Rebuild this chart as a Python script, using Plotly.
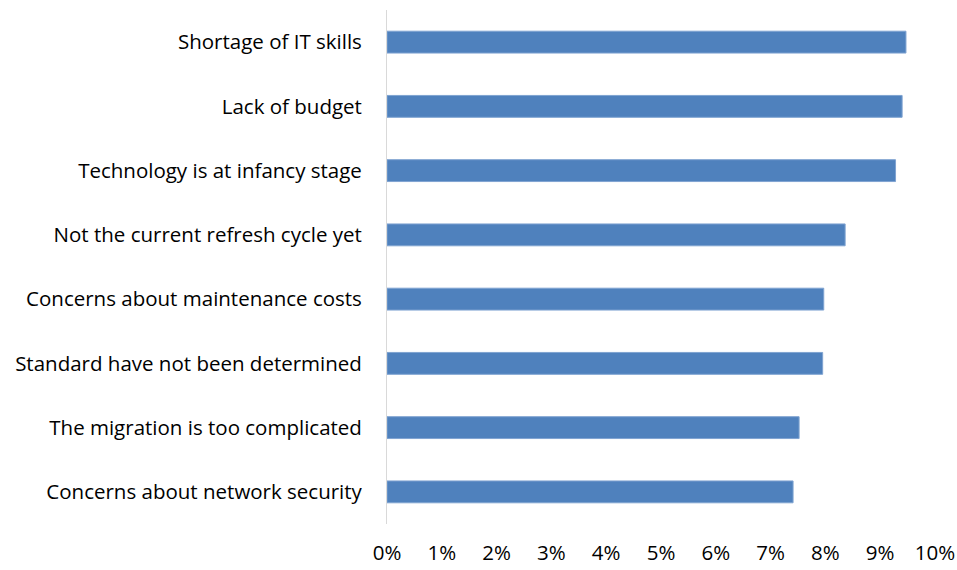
import plotly.graph_objects as go

categories = [
    "Shortage of IT skills",
    "Lack of budget",
    "Technology is at infancy stage",
    "Not the current refresh cycle yet",
    "Concerns about maintenance costs",
    "Standard have not been determined",
    "The migration is too complicated",
    "Concerns about network security",
]
values = [0.0947, 0.0940, 0.0928, 0.0836, 0.0797, 0.0795, 0.0752, 0.0741]
tick_vals = [i / 100 for i in range(11)]
tick_text = [f"{i}%" for i in range(11)]

fig = go.Figure(
    go.Bar(
        x=values,
        y=categories,
        orientation="h",
        width=0.34,
        marker=dict(color="#4F81BD", line=dict(color="#7FA3D1", width=1)),
    )
)

fig.update_layout(
    width=957,
    height=570,
    margin=dict(l=387, r=22, t=10, b=46, autoexpand=False),
    plot_bgcolor="white",
    paper_bgcolor="white",
    font=dict(family="Open Sans", size=20.5, color="#000000"),
    showlegend=False,
    bargap=0.66,
)
fig.update_xaxes(
    range=[0, 0.1],
    tickvals=tick_vals,
    ticktext=tick_text,
    showgrid=False,
    zeroline=False,
    showline=False,
    ticks="",
    ticklabelstandoff=14,
    automargin=False,
)
fig.update_yaxes(
    autorange="reversed",
    showline=True,
    linecolor="#D9D9D9",
    linewidth=1,
    showgrid=False,
    ticks="",
    ticklabelstandoff=20,
    automargin=False,
)

fig.write_html("out.html")
